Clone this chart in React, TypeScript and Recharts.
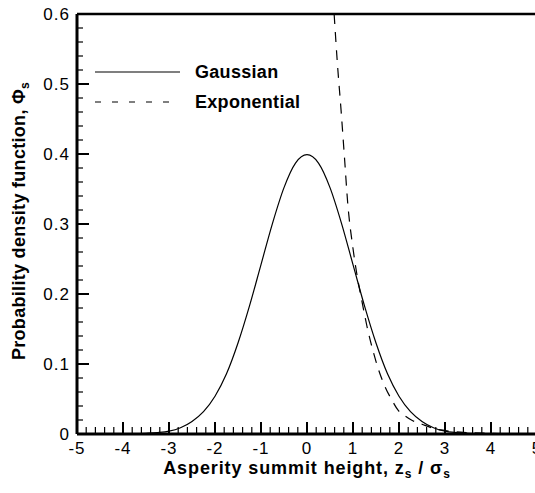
import React from 'react';
import { LineChart, Line, XAxis, YAxis, Legend, ReferenceLine } from 'recharts';

const FONT = '"Liberation Sans", Arial, Helvetica, sans-serif';

// Gaussian curve
const gaussZ = [-5, -4.5, -4, -3.5, -3.25, -3, -2.75, -2.5, -2.25, -2, -1.75, -1.5, -1.25, -1, -0.75, -0.5, -0.25, 0,
  0.25, 0.5, 0.75, 1, 1.25, 1.5, 1.75, 2, 2.25, 2.5, 2.75, 3, 3.25, 3.5, 4, 4.5, 5];
const gaussPhi = [0, 0, 0, 0.001, 0.002, 0.004, 0.009, 0.018, 0.032, 0.054, 0.086, 0.13, 0.183, 0.242, 0.301, 0.352, 0.387, 0.399,
  0.387, 0.352, 0.301, 0.242, 0.183, 0.13, 0.086, 0.054, 0.032, 0.018, 0.009, 0.004, 0.002, 0.001, 0, 0, 0];

// Exponential curve
const expZ = [0.59, 0.66, 0.74, 0.82, 0.885, 1.0, 1.1, 1.19, 1.3, 1.43, 1.55, 1.7, 1.85, 1.98, 2.13, 2.27, 2.5, 2.75, 3, 3.25, 3.5, 4, 4.5, 5];
const expPhi = [0.6, 0.53, 0.463, 0.39, 0.33, 0.265, 0.222, 0.191, 0.155, 0.12, 0.093, 0.067, 0.048, 0.034, 0.026, 0.02, 0.014, 0.008, 0.005, 0.003, 0.002, 0.001, 0, 0];

const seriesNames = ['Gaussian', 'Exponential'];

const xMajor = [-5, -4, -3, -2, -1, 0, 1, 2, 3, 4, 5];
const xMinor = [-4.8, -4.6, -4.4, -4.2, -3.8, -3.6, -3.4, -3.2, -2.8, -2.6, -2.4, -2.2, -1.8, -1.6, -1.4, -1.2,
  -0.8, -0.6, -0.4, -0.2, 0.2, 0.4, 0.6, 0.8, 1.2, 1.4, 1.6, 1.8, 2.2, 2.4, 2.6, 2.8, 3.2, 3.4, 3.6, 3.8, 4.2, 4.4, 4.6, 4.8];
const yMajor = [0, 0.1, 0.2, 0.3, 0.4, 0.5, 0.6];
const yMinor = [0.02, 0.04, 0.06, 0.08, 0.12, 0.14, 0.16, 0.18, 0.22, 0.24, 0.26, 0.28, 0.32, 0.34, 0.36, 0.38,
  0.42, 0.44, 0.46, 0.48, 0.52, 0.54, 0.56, 0.58];

const gaussData = gaussZ.map((z, i) => ({ z, phi: gaussPhi[i] }));
const expData = expZ.map((z, i) => ({ z, phi: expPhi[i] }));
const xTicks = [...xMajor, ...xMinor].sort((a, b) => a - b);
const yTicks = [...yMajor, ...yMinor].sort((a, b) => a - b);

const legendDash: Record<string, string | undefined> = { Gaussian: undefined, Exponential: '6 11' };

const XTick = (props: any) => {
  const { x, payload } = props;
  const y = props.y - 1;
  const major = xMajor.includes(payload.value);
  return (
    <g>
      <line x1={x} x2={x} y1={y} y2={y - (major ? 11 : 6)} stroke="#000" strokeWidth={major ? 2 : 1.2} />
      {major && (
        <text x={x} y={y + 21} textAnchor="middle" fontSize={17} letterSpacing={1} fontFamily={FONT} fill="#000">{payload.value}</text>
      )}
    </g>
  );
};

const YTick = (props: any) => {
  const { x, y, payload } = props;
  const major = yMajor.includes(payload.value);
  return (
    <g>
      <line x1={x} x2={x + (major ? 12 : 6)} y1={y} y2={y} stroke="#000" strokeWidth={major ? 2 : 1.2} />
      {major && (
        <text x={x - 7} y={y + 6} textAnchor="end" fontSize={17} letterSpacing={1} fontFamily={FONT} fill="#000">{payload.value}</text>
      )}
    </g>
  );
};

const XLabel = (props: any) => {
  const vb = props.viewBox || { x: 77, y: 434, width: 460 };
  return (
    <text x={vb.x + vb.width / 2} y={vb.y + 40} textAnchor="middle" fontSize={18} letterSpacing={0.9} fontWeight="bold" fontFamily={FONT} fill="#000">
      Asperity summit height, z<tspan fontSize={12} dy={4}>s</tspan><tspan dy={-4}> / σ</tspan><tspan fontSize={12} dy={4}>s</tspan>
    </text>
  );
};

const YLabel = (props: any) => {
  const vb = props.viewBox || { x: 76, y: 14, height: 420 };
  const cy = vb.y + vb.height / 2 - 3;
  return (
    <text x={25} y={cy} transform={`rotate(-90 25 ${cy})`} textAnchor="middle" fontSize={18} letterSpacing={0.3} fontWeight="bold" fontFamily={FONT} fill="#000">
      Probability density function, Φ<tspan fontSize={12} dy={4}>s</tspan>
    </text>
  );
};

const renderLegend = (props: any) => {
  const items = [...(props.payload || [])].sort(
    (a: any, b: any) => seriesNames.indexOf(a.value) - seriesNames.indexOf(b.value)
  );
  return (
    <svg width={240} height={60}>
      {items.map((e: any, i: number) => {
        const y = 17 + i * 30;
        return (
          <g key={e.value}>
            <line x1={5} x2={90} y1={y} y2={y} stroke="#000" strokeWidth={1.2} strokeDasharray={legendDash[e.value]} />
            <text x={105} y={y + 6} fontSize={18} letterSpacing={0.3} fontWeight="bold" fontFamily={FONT} fill="#000">{e.value}</text>
          </g>
        );
      })}
    </svg>
  );
};

export default function App() {
  return (
    <div style={{ position: 'absolute', left: 0, top: 0, width: 535, height: 493, overflow: 'hidden', background: '#fff' }}>
      <LineChart width={540} height={493} margin={{ top: 14, right: 3, bottom: 58, left: 76 }}>
        <XAxis type="number" dataKey="z" domain={[-5, 5]} ticks={xTicks} interval={0} allowDataOverflow
          height={1} tickSize={0} tickMargin={0} tick={<XTick />} tickLine={false}
          axisLine={{ stroke: '#000', strokeWidth: 3 }} label={<XLabel />} />
        <YAxis type="number" domain={[0, 0.6]} ticks={yTicks} interval={0} allowDataOverflow
          width={1} tickSize={0} tickMargin={0} tick={<YTick />} tickLine={false}
          axisLine={{ stroke: '#000', strokeWidth: 3 }} label={<YLabel />} />
        <ReferenceLine y={0.6} stroke="#000" strokeWidth={2.5} />
        <Legend layout="horizontal" verticalAlign="middle" align="center" content={renderLegend}
          wrapperStyle={{ left: 90, top: 55, width: 240, height: 60 }} />
        <Line data={gaussData} dataKey="phi" name="Gaussian" type="monotone" stroke="#000" strokeWidth={1.2}
          dot={false} activeDot={false} isAnimationActive={false} />
        <Line data={expData} dataKey="phi" name="Exponential" type="monotone" stroke="#000" strokeWidth={1.2}
          strokeDasharray="10 8" dot={false} activeDot={false} isAnimationActive={false} />
      </LineChart>
    </div>
  );
}
